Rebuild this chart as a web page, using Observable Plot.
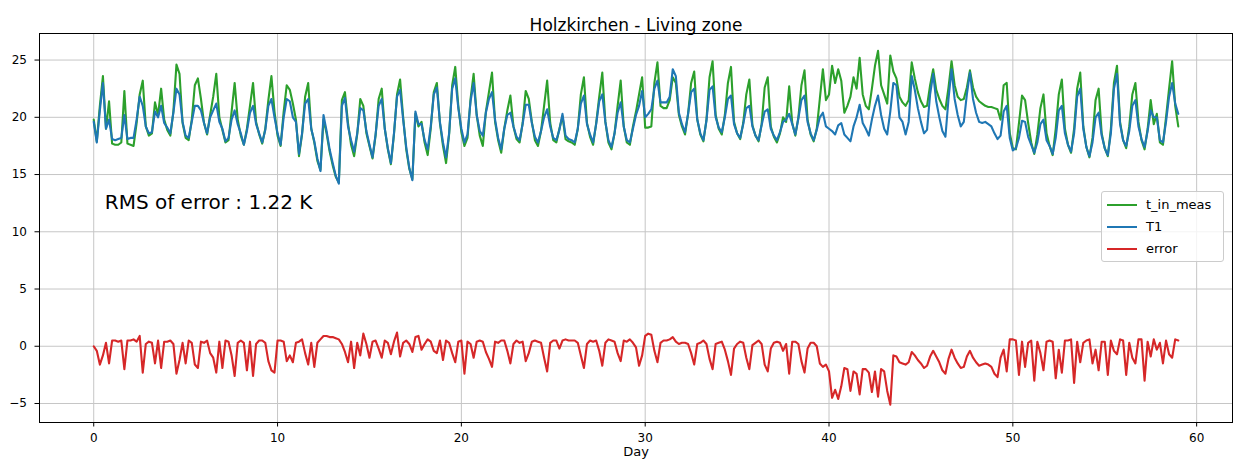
<!DOCTYPE html>
<html>
<head>
<meta charset="utf-8">
<script src="https://cdn.jsdelivr.net/npm/d3@7"></script>
<script src="https://cdn.jsdelivr.net/npm/@observablehq/plot@0.6"></script>
<style>
  html, body { margin: 0; padding: 0; background: #fff; }
  #wrap { position: relative; width: 1234px; height: 467px; font-family: "DejaVu Sans", sans-serif; }
  .legend { position: absolute; left: 1101px; top: 191px; width: 121px; height: 69px;
            border: 1px solid #cccccc; border-radius: 3px; background: rgba(255,255,255,0.8); }
  .item { position: absolute; left: 0; width: 121px; height: 16px; }
  .swatch { position: absolute; left: 5px; top: 7px; width: 30px; height: 2px; }
  .lab { position: absolute; left: 44px; top: 0; line-height: 16px; font-size: 13px; color: #000; white-space: nowrap; }
</style>
</head>
<body>
<div id="wrap"></div>
<script>
// ---------------- data ----------------
const titleText = "Holzkirchen - Living zone";
const xLabelText = "Day";
const seriesNames = ["t_in_meas", "T1", "error"];
const seriesColors = ["#2ca02c", "#1f77b4", "#d62728"];
const xTicks = [0, 10, 20, 30, 40, 50, 60];
const yTicks = [-5, 0, 5, 10, 15, 20, 25];
const annotation = [{day: 0.6, value: 12, label: "RMS of error : 1.22 K"}];
const stepsPerDay = 6; // samples every 4 hours, day 0 .. 59

// measured indoor temperature (green), 6 samples per day
const meas = [
  19.8, 17.9, 21.0, 23.6, 19.0, 21.4,
  17.7, 17.6, 17.6, 17.8, 22.3, 17.7,
  17.6, 17.5, 19.5, 22.0, 23.2, 19.2,
  18.4, 18.6, 21.3, 20.2, 22.5, 19.8,
  18.9, 18.4, 20.5, 24.6, 23.8, 19.5,
  18.2, 18.0, 19.8, 22.8, 23.4, 21.6,
  19.5, 18.5, 20.2, 21.8, 23.8, 20.0,
  18.9, 17.8, 18.0, 20.5, 23.0, 19.8,
  18.4, 17.6, 19.0, 21.0, 23.0, 19.6,
  18.5, 17.7, 19.0, 21.5, 23.6, 20.5,
  18.4, 17.5, 20.5, 22.8, 22.4, 21.2,
  19.8, 16.6, 18.5, 21.8, 23.0, 19.0,
  17.8, 16.2, 15.4, 19.8, 18.6, 17.0,
  15.8, 14.8, 14.3, 21.5, 22.2, 19.5,
  17.6, 16.6, 18.5, 21.6, 21.0, 18.6,
  17.5, 16.4, 18.4, 21.6, 22.5, 19.0,
  17.2, 15.9, 18.5, 22.0, 23.3, 20.0,
  17.2, 15.5, 14.6, 20.3, 19.2, 19.6,
  17.8, 16.7, 19.0, 22.2, 23.0, 19.5,
  17.5, 16.0, 18.5, 22.8, 24.4, 21.0,
  18.7, 17.5, 18.2, 21.6, 23.8, 20.2,
  18.4, 17.5, 20.5, 22.2, 23.9, 19.6,
  18.0, 16.9, 19.0, 20.6, 21.9, 19.2,
  18.1, 17.8, 19.5, 22.3, 21.6, 19.6,
  18.0, 17.5, 18.8, 21.0, 23.2, 19.5,
  18.0, 17.8, 19.0, 20.1, 18.1, 17.9,
  17.8, 17.6, 19.0, 22.0, 23.5, 19.5,
  18.3, 17.6, 19.5, 21.8, 23.9, 19.6,
  17.8, 17.2, 18.6, 21.0, 23.2, 19.2,
  17.8, 17.6, 19.2, 20.5, 22.0, 23.5,
  19.1, 19.1, 19.2, 23.0, 24.8, 21.0,
  20.8, 20.8, 21.5, 23.5, 23.0, 20.2,
  19.2, 18.5, 20.3, 23.0, 24.0, 19.8,
  18.5, 17.9, 19.8, 23.5, 24.9, 20.2,
  19.0, 18.5, 20.2, 23.0, 24.4, 19.6,
  18.6, 18.1, 19.5, 22.0, 23.3, 19.3,
  18.4, 17.9, 19.4, 22.6, 23.5, 19.2,
  18.3, 17.8, 18.6, 20.0, 19.6, 22.7,
  19.5, 18.4, 20.0, 22.8, 24.1, 19.8,
  18.5, 17.9, 19.0, 21.6, 24.2, 21.5,
  22.0, 24.5, 23.0, 24.2, 23.2, 20.4,
  21.0, 21.8, 23.5, 22.5, 25.2, 22.0,
  21.0, 20.7, 22.5, 24.5, 25.8, 22.8,
  22.0, 21.2, 25.4, 24.0, 23.4, 21.8,
  21.3, 21.0, 21.5, 24.8, 23.4, 22.2,
  21.4, 20.9, 21.0, 22.8, 24.2, 22.4,
  21.6, 21.0, 20.7, 22.6, 24.9, 22.8,
  21.8, 21.5, 21.6, 22.6, 24.1, 22.6,
  21.8, 21.4, 21.2, 21.0, 20.9, 20.9,
  20.8, 20.7, 19.8, 22.8, 23.0, 18.6,
  17.3, 17.2, 19.5, 21.9, 21.5, 19.5,
  17.8, 16.8, 18.5, 20.8, 22.0, 18.6,
  17.5, 16.7, 19.0, 22.0, 23.3, 19.0,
  17.6, 16.9, 19.0, 22.5, 23.9, 19.2,
  17.4, 16.5, 18.2, 21.5, 22.5, 18.6,
  17.3, 16.6, 19.0, 23.0, 24.5, 19.6,
  18.0, 17.3, 19.2, 22.0, 23.0, 19.6,
  18.0, 17.2, 19.0, 21.5, 19.4, 20.3,
  17.8, 17.6, 20.0, 22.5, 24.9, 21.0,
  19.2
];

// simulated temperature T1 (blue)
const t1 = [
  19.6, 17.8, 20.6, 23.0, 19.0, 19.8,
  18.1, 18.0, 18.1, 18.2, 20.2, 18.1,
  18.2, 18.2, 19.8, 21.8, 21.0, 19.2,
  18.6, 18.7, 20.5, 20.0, 21.0, 19.5,
  19.1, 18.6, 20.4, 22.5, 22.0, 19.6,
  18.4, 18.2, 19.6, 21.0, 21.0, 20.6,
  19.5, 18.6, 20.0, 20.6, 21.2, 19.6,
  19.0, 17.9, 18.2, 19.8, 20.6, 19.4,
  18.6, 17.6, 18.8, 20.4, 21.0, 19.4,
  18.6, 17.8, 18.9, 21.0, 21.6, 20.0,
  18.6, 17.6, 20.0, 21.6, 21.4, 20.0,
  19.6, 16.8, 18.6, 21.2, 21.6, 19.0,
  17.9, 16.4, 15.3, 20.2, 18.8, 17.2,
  16.0, 14.9, 14.2, 21.0, 21.7, 19.2,
  18.0, 17.0, 18.6, 20.8, 20.6, 18.8,
  17.6, 16.5, 18.5, 21.0, 21.6, 19.0,
  17.3, 16.0, 18.6, 21.8, 22.4, 19.8,
  17.4, 15.6, 14.5, 20.5, 19.4, 19.4,
  18.0, 17.2, 19.2, 22.0, 22.6, 19.6,
  17.8, 16.5, 18.6, 22.5, 23.4, 20.8,
  19.0, 17.8, 18.5, 21.4, 23.0, 20.2,
  18.8, 18.4, 20.4, 21.6, 22.2, 19.8,
  18.2, 17.2, 19.0, 20.2, 20.4, 19.2,
  18.3, 18.0, 19.4, 21.1, 21.1, 19.5,
  18.3, 17.8, 18.8, 20.0, 20.7, 19.2,
  18.2, 18.0, 18.9, 20.3, 18.4, 18.1,
  18.0, 17.8, 19.0, 21.2, 21.9, 19.4,
  18.5, 17.8, 19.4, 21.4, 22.0, 19.6,
  18.0, 17.4, 18.6, 20.4, 21.3, 19.2,
  18.0, 17.8, 19.0, 20.2, 21.0, 22.3,
  20.0, 20.3, 20.7, 22.5, 23.2, 21.3,
  21.3, 21.3, 21.8, 24.2, 23.6, 20.4,
  19.4, 18.7, 20.3, 22.2, 22.5, 19.8,
  18.6, 18.0, 19.7, 22.4, 22.7, 20.0,
  19.1, 18.7, 20.0, 21.6, 21.9, 19.4,
  18.6, 18.2, 19.4, 20.8, 21.0, 19.2,
  18.4, 18.0, 19.3, 20.5, 20.7, 19.0,
  18.4, 18.0, 18.7, 19.6, 19.8, 20.3,
  19.4, 18.5, 19.9, 21.5, 21.9, 19.6,
  18.6, 18.0, 18.9, 20.0, 20.4, 19.2,
  19.0, 18.8, 18.5, 19.3, 19.5, 18.5,
  18.2, 17.9, 19.2, 20.0, 21.1, 19.5,
  19.0, 18.4, 19.8, 21.0, 21.9, 20.2,
  19.0, 18.5, 20.5, 23.0, 22.8, 20.0,
  19.6, 18.5, 19.6, 23.6, 22.4, 20.8,
  19.6, 18.6, 18.9, 22.0, 23.8, 21.4,
  20.0, 18.8, 18.3, 21.6, 24.2, 21.6,
  20.2, 19.2, 19.6, 22.0, 23.9, 21.6,
  20.4, 19.6, 19.5, 19.6, 19.4, 19.2,
  18.6, 18.1, 18.4, 20.5, 21.0, 18.2,
  17.1, 17.3, 18.2, 19.7, 19.6, 18.3,
  17.6, 16.9, 17.8, 19.4, 19.8, 18.0,
  17.5, 16.8, 18.2, 20.6, 21.0, 18.6,
  17.6, 17.0, 18.6, 21.8, 22.5, 19.0,
  17.4, 16.6, 17.8, 20.0, 20.4, 18.4,
  17.3, 16.7, 18.6, 22.5, 23.8, 19.4,
  18.0, 17.5, 18.8, 21.0, 21.5, 19.2,
  18.1, 17.4, 18.8, 20.6, 20.0, 20.0,
  18.0, 17.8, 19.6, 21.8, 23.0, 21.2,
  20.3
];

// error (red)
const err = [
   0.0, -0.4, -1.6, -0.8,  0.3, -1.5,
   0.5,  0.5,  0.4,  0.5, -2.0,  0.5,
   0.5,  0.6,  0.4,  0.9, -2.3,  0.2,
   0.4,  0.3, -1.5,  0.5, -1.9,  0.4,
   0.4,  0.5,  0.2, -2.4, -1.2,  0.3,
  -1.5,  0.5,  0.3, -1.6, -1.9,  0.4,
   0.3,  0.5, -0.6, -1.0, -2.3,  0.4,
  -1.9,  0.5,  0.4, -0.8, -2.6,  0.3,
   0.5,  0.3, -2.1,  0.4, -2.6,  0.2,
   0.5,  0.5,  0.3, -1.3, -2.1, -2.3,
   0.5,  0.5,  0.4, -1.3, -0.8, -1.4,
   0.3,  0.4,  0.6, -0.6, -1.6,  0.3,
  -1.8,  0.3,  0.6,  0.9,  0.9,  0.8,
   0.8,  0.7,  0.6,  0.2, -0.5, -1.4,
   0.4, -1.9,  0.3, -0.8,  1.1,  0.2,
  -1.0,  0.4,  0.5, -0.2, -1.0,  0.5,
   0.3, -0.7,  0.4,  1.2, -0.9,  0.3,
   0.5,  0.2, -0.5,  0.8,  0.9, -0.3,
   0.2,  0.6,  0.4, -0.4, -0.6,  0.5,
  -1.2,  0.5,  0.3, -0.6, -1.4,  0.4,
   0.5, -2.4,  0.4,  0.2, -1.0,  0.4,
   0.5,  0.4, -0.5, -1.1, -1.8,  0.4,
   0.3,  0.5,  0.5, -0.4, -1.5,  0.2,
   0.5,  0.3,  0.4, -1.3, -0.6,  0.4,
   0.5,  0.4,  0.3, -1.0, -2.2,  0.3,
   0.5,  0.5, -0.2,  0.5,  0.6,  0.5,
   0.5,  0.5,  0.3, -0.8, -1.9,  0.2,
   0.5,  0.4,  0.5, -0.4, -1.7,  0.3,
   0.6,  0.5,  0.4, -0.6, -1.3,  0.5,
   0.4,  0.6,  0.3, -0.1, -1.7, -0.8,
   0.9,  1.1,  1.0, -0.4, -1.4,  0.3,
   0.5,  0.5,  0.6,  0.8,  0.4,  0.2,
   0.3,  0.3,  0.2, -0.6, -1.6,  0.2,
   0.3,  0.5,  0.2, -1.1, -2.0,  0.2,
   0.3,  0.4, -0.3, -1.3, -2.5, -0.2,
   0.2,  0.4,  0.3, -1.0, -2.0,  0.1,
   0.3,  0.5,  0.2, -1.6, -2.2, -0.2,
   0.3,  0.4,  0.3, -0.4,  0.2, -2.4,
   0.4,  0.4,  0.2, -1.3, -2.3, -0.2,
   0.3,  0.3,  0.0, -1.5, -1.8, -1.6,
  -2.2, -4.5, -3.8, -4.6, -3.5, -1.9,
  -2.0, -3.9, -2.2, -2.4, -4.2, -2.0,
  -2.0, -2.3, -4.0, -2.2, -4.4, -2.0,
  -2.2, -3.9, -5.1, -0.8, -0.9, -1.4,
  -1.5, -1.6, -1.4, -0.5, -0.8, -1.2,
  -1.5, -1.9, -1.7, -0.9, -0.4, -0.9,
  -1.4, -2.1, -2.4, -1.1, -0.3, -1.0,
  -1.5, -1.9, -1.8, -0.9, -0.4, -1.0,
  -1.4, -1.7, -1.6, -1.5, -1.6, -1.8,
  -2.4, -2.7, -1.0, -0.3, -2.2,  0.6,
   0.6,  0.5, -2.5,  0.4, -1.8,  0.3,
   0.5, -3.0,  0.4, -0.6, -2.1,  0.4,
   0.5,  0.4, -2.8, -0.3, -2.3,  0.5,
   0.5,  0.6, -3.2,  0.4, -1.4,  0.3,
   0.5,  0.6, -1.5, -0.3, -2.1,  0.4,
   0.4, -2.5,  0.5, -0.4, -0.7,  0.6,
   0.5, -2.5,  0.3, -1.0, -1.5,  0.6,
   0.6, -3.0,  0.4, -0.9,  0.6, -0.3,
   0.3, -1.5,  0.5, -0.7, -1.0,  0.6,
   0.5
];

// ---------------- chart ----------------
const rows = meas.map((m, i) => ({day: i / stepsPerDay, meas: m, t1: t1[i], error: err[i]}));

const gridStyle = {stroke: "#c6c6c6", strokeOpacity: 1, strokeWidth: 1};
const lineW = 2.1;

const chart = Plot.plot({
  width: 1234,
  height: 467,
  marginLeft: 39,
  marginRight: 2,
  marginTop: 33,
  marginBottom: 45,
  style: {fontFamily: "DejaVu Sans", fontSize: "12px", color: "#000", background: "#fff", overflow: "visible"},
  x: {domain: [-2.95, 61.95], label: null},
  y: {domain: [-6.66, 27.32], label: null},
  marks: [
    Plot.gridX(xTicks, gridStyle),
    Plot.gridY(yTicks, gridStyle),
    Plot.line(rows, {x: "day", y: "meas", stroke: seriesColors[0], strokeWidth: lineW}),
    Plot.line(rows, {x: "day", y: "t1", stroke: seriesColors[1], strokeWidth: lineW}),
    Plot.line(rows, {x: "day", y: "error", stroke: seriesColors[2], strokeWidth: lineW}),
    Plot.frame({stroke: "#000", strokeWidth: 1}),
    Plot.axisX(xTicks, {tickSize: 4.5, tickPadding: 6, label: null, fontSize: 12}),
    Plot.axisY(yTicks, {tickSize: 4.5, tickPadding: 8, label: null, fontSize: 12}),
    Plot.text(annotation, {x: "day", y: "value", text: "label", textAnchor: "start", fontSize: 20, dy: -6.5, fill: "#000"}),
    Plot.text([titleText], {text: d => d, frameAnchor: "top", dy: -14.4, fontSize: 17, fill: "#000"}),
    Plot.text([xLabelText], {text: d => d, frameAnchor: "bottom", dy: 33.3, fontSize: 13, fill: "#000"})
  ]
});

const wrap = document.getElementById("wrap");
wrap.appendChild(chart);

// legend (matplotlib-style box)
const legend = document.createElement("div");
legend.className = "legend";
const itemTops = [5, 27, 49];
seriesNames.forEach((name, i) => {
  const item = document.createElement("div");
  item.className = "item";
  item.style.top = itemTops[i] + "px";
  const sw = document.createElement("div");
  sw.className = "swatch";
  sw.style.background = seriesColors[i];
  const lab = document.createElement("div");
  lab.className = "lab";
  lab.textContent = name;
  item.appendChild(sw);
  item.appendChild(lab);
  legend.appendChild(item);
});
wrap.appendChild(legend);
</script>
</body>
</html>
